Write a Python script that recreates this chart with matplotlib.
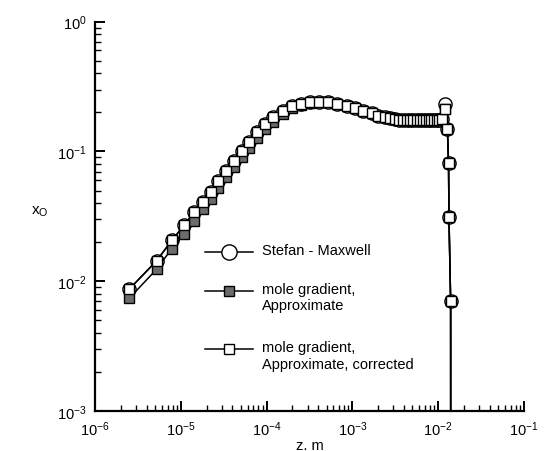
import matplotlib
matplotlib.use("Agg")
import matplotlib.pyplot as plt
from matplotlib.lines import Line2D

plt.rcParams['font.family'] = ['Liberation Sans', 'DejaVu Sans']
plt.rcParams['mathtext.fontset'] = 'custom'
plt.rcParams['mathtext.rm'] = 'Liberation Sans'
plt.rcParams['mathtext.it'] = 'Liberation Sans'
plt.rcParams['mathtext.default'] = 'regular'

# z positions (m)
z = [2.51e-6, 5.24e-6, 7.83e-6, 1.10e-5, 1.43e-5, 1.83e-5, 2.23e-5, 2.74e-5,
     3.37e-5, 4.17e-5, 5.13e-5, 6.28e-5, 7.67e-5, 9.57e-5, 1.20e-4, 1.54e-4,
     1.96e-4, 2.49e-4, 3.21e-4, 4.11e-4, 5.20e-4, 6.67e-4, 8.59e-4, 1.07e-3,
     1.34e-3, 1.68e-3, 2.00e-3, 2.40e-3, 2.74e-3, 3.14e-3, 3.52e-3, 3.92e-3,
     4.30e-3, 4.69e-3, 5.13e-3, 5.61e-3, 6.14e-3, 6.70e-3, 7.21e-3, 7.74e-3,
     8.32e-3, 8.93e-3, 9.62e-3, 1.035e-2, 1.107e-2, 1.20e-2, 1.28e-2, 1.32e-2,
     1.335e-2, 1.396e-2, 1.40e-2]

# Stefan - Maxwell
x_sm = [0.0087, 0.0144, 0.0206, 0.0271, 0.034, 0.0406, 0.049, 0.0596,
        0.0709, 0.0849, 0.1014, 0.119, 0.1406, 0.163, 0.1834, 0.206,
        0.2254, 0.232, 0.242, 0.242, 0.239, 0.232, 0.225, 0.215,
        0.206, 0.198, 0.189, 0.183, 0.180, 0.177, 0.176, 0.176,
        0.176, 0.176, 0.176, 0.176, 0.176, 0.176, 0.176, 0.176,
        0.176, 0.176, 0.176, 0.176, 0.178, 0.232, 0.150, 0.081,
        0.031, 0.0070, 1e-5]

# mole gradient, Approximate
x_ap = [0.0074, 0.0124, 0.0178, 0.0231, 0.0293, 0.036, 0.043, 0.052,
        0.0633, 0.0755, 0.0907, 0.1064, 0.126, 0.1477, 0.170, 0.1945,
        0.2163, 0.228, 0.238, 0.242, 0.239, 0.232, 0.225, 0.215,
        0.206, 0.198, 0.189, 0.183, 0.180, 0.177, 0.176, 0.176,
        0.176, 0.176, 0.176, 0.176, 0.176, 0.176, 0.176, 0.176,
        0.176, 0.176, 0.176, 0.176, 0.178, 0.212, 0.150, 0.081,
        0.031, 0.0070, 1e-5]

# mole gradient, Approximate, corrected
x_co = [0.0087, 0.0144, 0.0206, 0.0271, 0.034, 0.0406, 0.049, 0.0596,
        0.0709, 0.0849, 0.1014, 0.119, 0.1406, 0.163, 0.1834, 0.206,
        0.2254, 0.232, 0.242, 0.242, 0.239, 0.232, 0.225, 0.215,
        0.206, 0.198, 0.189, 0.183, 0.180, 0.177, 0.176, 0.176,
        0.176, 0.176, 0.176, 0.176, 0.176, 0.176, 0.176, 0.176,
        0.176, 0.176, 0.176, 0.176, 0.178, 0.212, 0.150, 0.081,
        0.031, 0.0070, 1e-5]

labels = ["Stefan - Maxwell", "mole gradient,\nApproximate",
          "mole gradient,\nApproximate, corrected"]

fig = plt.figure(figsize=(5.48, 4.52), dpi=100)
ax = fig.add_axes([0.1734, 0.0885, 0.7828, 0.8613])

lw = 1.1
ax.plot(z, x_sm, color="k", lw=lw, marker="o", ms=9.5, mfc="white", mec="k", mew=1.0, zorder=3)
ax.plot(z, x_ap, color="k", lw=lw, marker="s", ms=7.5, mfc="#6b6b6b", mec="k", mew=1.0, zorder=4)
ax.plot(z, x_co, color="k", lw=lw, marker="s", ms=7.5, mfc="white", mec="k", mew=1.0, zorder=5)

ax.set_xscale("log")
ax.set_yscale("log")
ax.set_xlim(1e-6, 1e-1)
ax.set_ylim(1e-3, 1e0)

for s in ["top", "right"]:
    ax.spines[s].set_visible(False)
for s in ["left", "bottom"]:
    ax.spines[s].set_linewidth(1.6)

ax.tick_params(which="major", direction="in", length=7, width=1.4, labelsize=10.5, pad=6)
ax.tick_params(which="minor", direction="in", length=4, width=1.0)

ax.set_xlabel("z. m", fontsize=10.5, labelpad=0)
fig.text(40 / 548, 1 - 212 / 452, r"$\mathregular{x_O}$", fontsize=11, ha="center", va="center")

# legend drawn by hand so the handles sit on the first text line
styles = [dict(marker="o", ms=11, mfc="white"),
          dict(marker="s", ms=7.5, mfc="#6b6b6b"),
          dict(marker="s", ms=7.5, mfc="white")]
ys = [0.408, 0.308, 0.159]
for lab, st, yy in zip(labels, styles, ys):
    ax.add_line(Line2D([0.256, 0.368], [yy, yy], transform=ax.transAxes, color="k",
                       lw=lw, mec="k", mew=1.0, markevery=[], zorder=6))
    ax.add_line(Line2D([0.312], [yy], transform=ax.transAxes, color="k", lw=0,
                       mec="k", mew=1.0, zorder=7, **st))
    ax.text(0.389, yy + 0.024, lab, transform=ax.transAxes, fontsize=10.5,
            va="top", ha="left", linespacing=1.25)

fig.savefig("out.png", dpi=100)
